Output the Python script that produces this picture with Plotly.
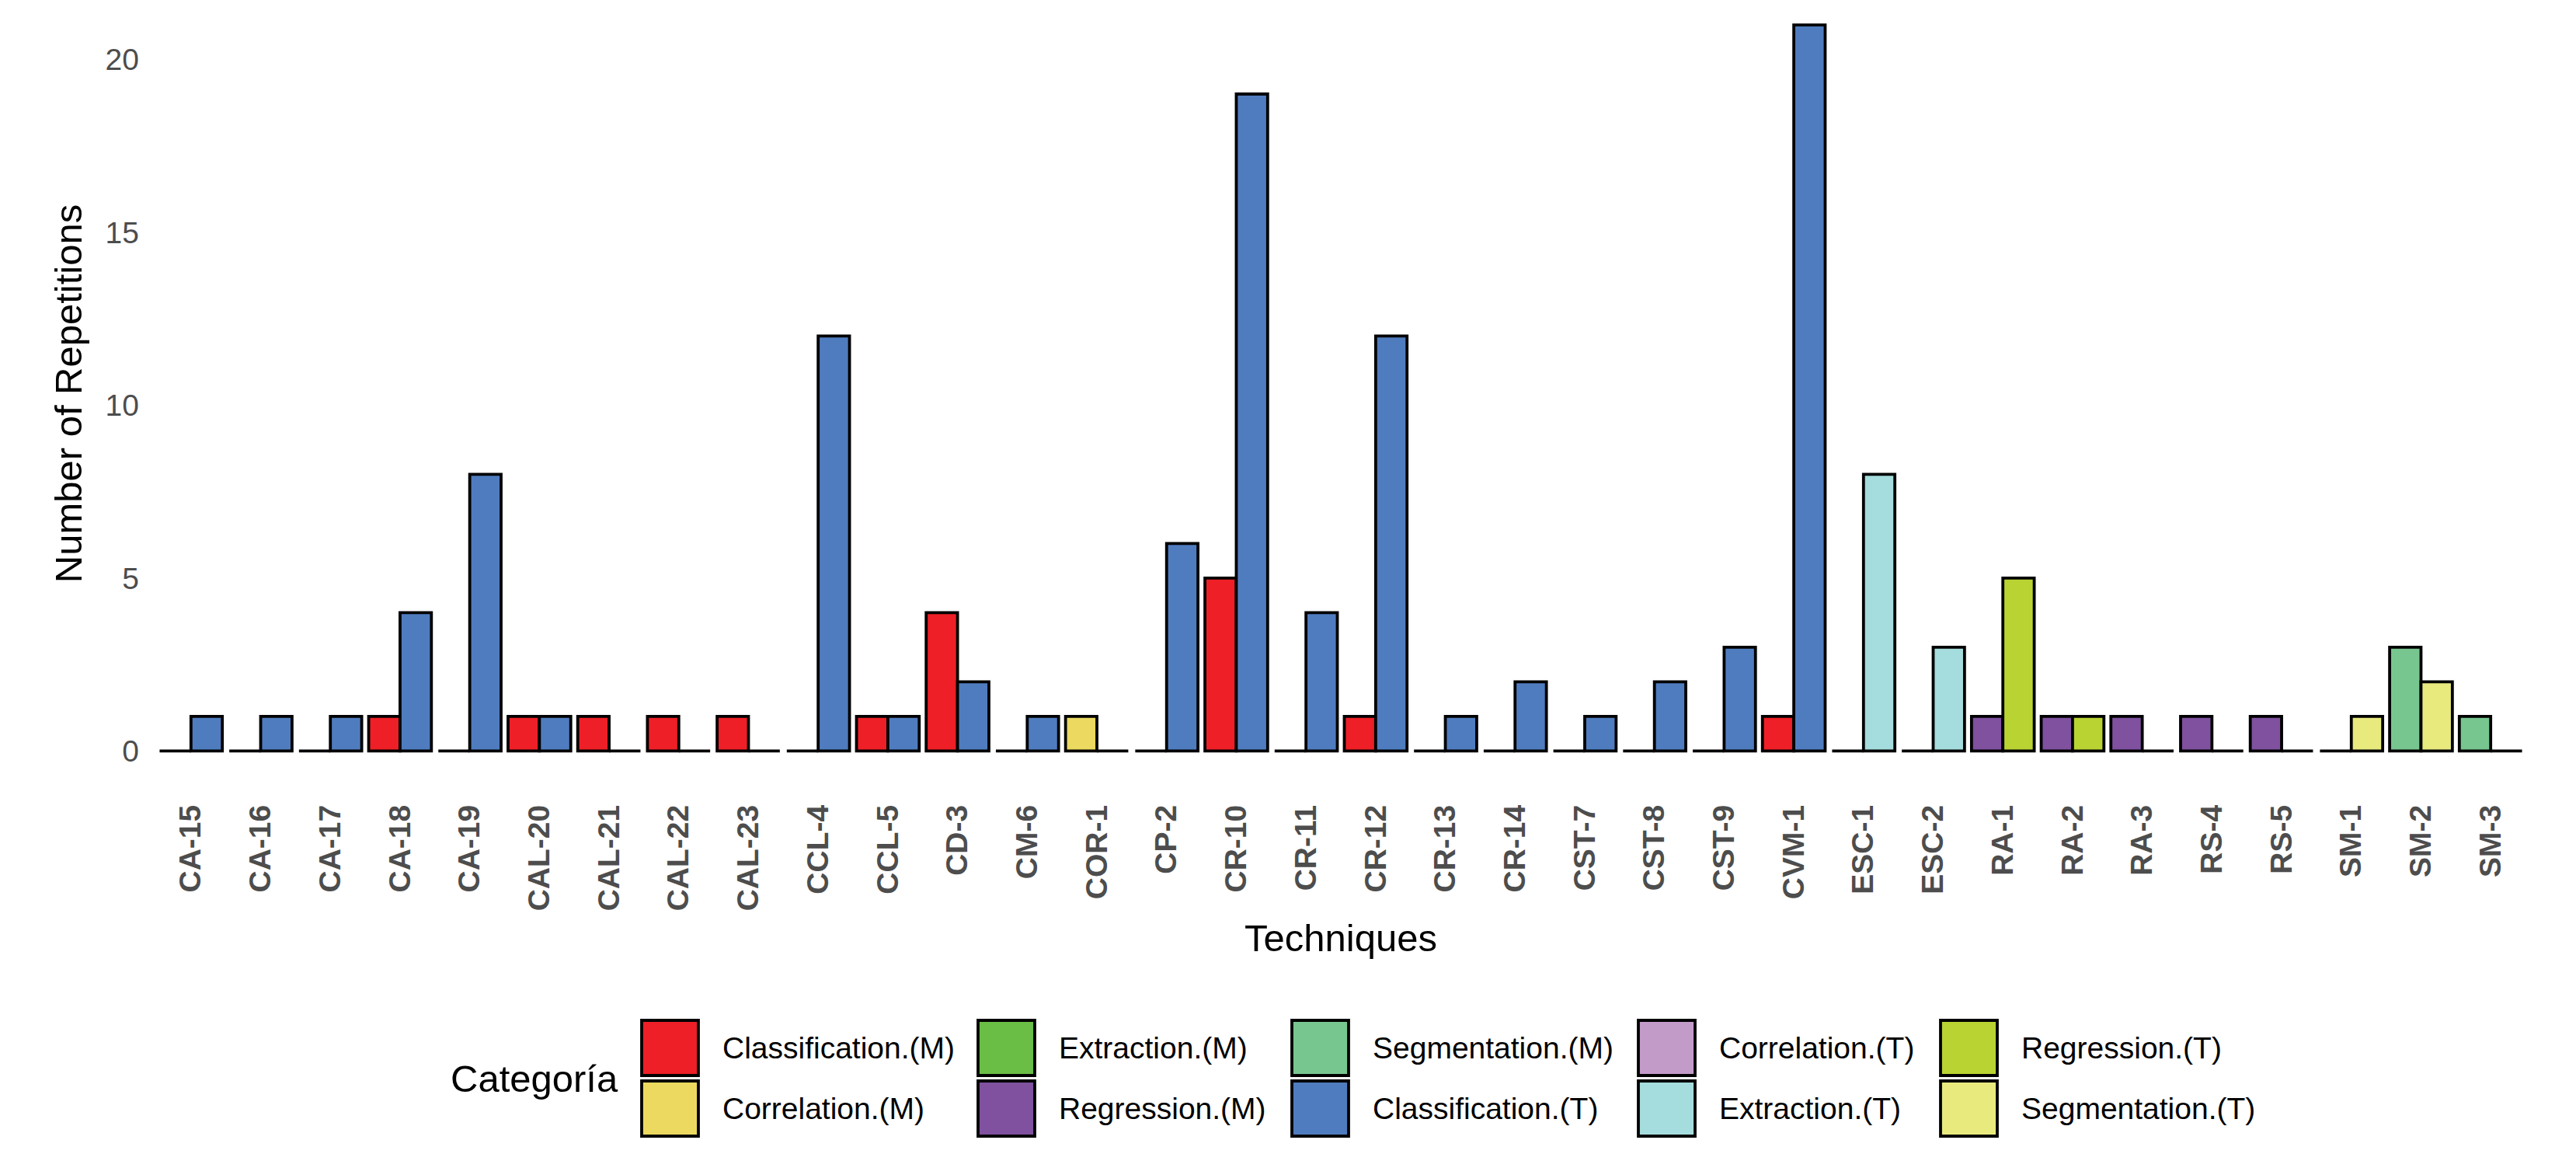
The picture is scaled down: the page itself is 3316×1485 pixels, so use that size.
import plotly.graph_objects as go

# ---------------- data ----------------
techniques = ["CA-15", "CA-16", "CA-17", "CA-18", "CA-19", "CAL-20", "CAL-21", "CAL-22",
              "CAL-23", "CCL-4", "CCL-5", "CD-3", "CM-6", "COR-1", "CP-2", "CR-10",
              "CR-11", "CR-12", "CR-13", "CR-14", "CST-7", "CST-8", "CST-9", "CVM-1",
              "ESC-1", "ESC-2", "RA-1", "RA-2", "RA-3", "RS-4", "RS-5", "SM-1", "SM-2", "SM-3"]

# first (M) slot of each technique
m_category = [None, None, None, "Classification.(M)", None, "Classification.(M)",
              "Classification.(M)", "Classification.(M)", "Classification.(M)", None,
              "Classification.(M)", "Classification.(M)", None, "Correlation.(M)", None,
              "Classification.(M)", None, "Classification.(M)", None, None, None, None, None,
              "Classification.(M)", None, None, "Regression.(M)", "Regression.(M)",
              "Regression.(M)", "Regression.(M)", "Regression.(M)", None,
              "Segmentation.(M)", "Segmentation.(M)"]
m_values = [0, 0, 0, 1, 0, 1, 1, 1, 1, 0, 1, 4, 0, 1, 0, 5, 0, 1, 0, 0, 0, 0, 0, 1,
            0, 0, 1, 1, 1, 1, 1, 0, 3, 1]

# second (T) slot of each technique
t_category = ["Classification.(T)"] * 5 + ["Classification.(T)", None, None, None,
              "Classification.(T)", "Classification.(T)", "Classification.(T)",
              "Classification.(T)", None, "Classification.(T)", "Classification.(T)",
              "Classification.(T)", "Classification.(T)", "Classification.(T)",
              "Classification.(T)", "Classification.(T)", "Classification.(T)",
              "Classification.(T)", "Classification.(T)", "Extraction.(T)", "Extraction.(T)",
              "Regression.(T)", "Regression.(T)", None, None, None, "Segmentation.(T)",
              "Segmentation.(T)", None]
t_values = [1, 1, 1, 4, 8, 1, 0, 0, 0, 12, 1, 2, 1, 0, 6, 19, 4, 12, 1, 2, 1, 2, 3, 21,
            8, 3, 5, 1, 0, 0, 0, 1, 2, 0]

categories = ["Classification.(M)", "Correlation.(M)", "Extraction.(M)", "Regression.(M)",
              "Segmentation.(M)", "Classification.(T)", "Correlation.(T)", "Extraction.(T)",
              "Regression.(T)", "Segmentation.(T)"]
category_colors = ["#EE1F26", "#EBD960", "#6ABD45", "#7F519F", "#77C68F",
                   "#4F7CBF", "#C39BC9", "#A5DCDD", "#B9D332", "#E8EA7E"]

y_ticks = [0, 5, 10, 15, 20]

# ---------------- figure ----------------
W, H = 3316, 1485
ML, MR, MT, MB = 192, 56, 0, 472
PW, PH = W - ML - MR, H - MT - MB
FONT = "Liberation Sans, Arial, sans-serif"
LINE_W = 3.8
color_of = dict(zip(categories, category_colors))

def cols(cats):
    return [color_of[c] if c else "white" for c in cats]

fig = go.Figure()
fig.add_trace(go.Bar(x=techniques, y=m_values, offsetgroup="M", name="M",
                     marker=dict(color=cols(m_category), line=dict(color="black", width=LINE_W)),
                     showlegend=False))
fig.add_trace(go.Bar(x=techniques, y=t_values, offsetgroup="T", name="T",
                     marker=dict(color=cols(t_category), line=dict(color="black", width=LINE_W)),
                     showlegend=False))

fig.update_layout(
    width=W, height=H,
    margin=dict(l=ML, r=MR, t=MT, b=MB, autoexpand=False),
    paper_bgcolor="white", plot_bgcolor="white",
    barmode="group", bargap=0.1, bargroupgap=0,
    font=dict(family=FONT, color="black"),
    showlegend=False,
)
fig.update_xaxes(type="category", range=[-0.6, len(techniques) - 0.4], showgrid=False,
                 zeroline=False, showline=False, ticks="", tickangle=-90,
                 tickfont=dict(family=FONT, size=39, color="#4D4D4D", weight="bold"),
                 ticklabelstandoff=14, automargin=False,
                 title=dict(text="Techniques", font=dict(size=49, color="black"), standoff=18))
fig.update_yaxes(range=[-1.05, 21.72], tickvals=y_ticks, showgrid=False, zeroline=False,
                 showline=False, ticks="", tickfont=dict(family=FONT, size=39, color="#4D4D4D"),
                 ticklabelstandoff=12, automargin=False,
                 title=dict(text="Number of Repetitions", font=dict(size=49, color="black"),
                            standoff=14))

# ---------------- legend (drawn as keys + labels) ----------------
def px_x(p):
    return (p - ML) / PW

def px_y(p):
    return (H - MB - p) / PH

col_left = [826, 1259, 1663, 2109, 2498]
row_top = [1313, 1391]
key_w, key_h = 73, 71

fig.add_annotation(text="Categoría", xref="paper", yref="paper", x=px_x(578), y=px_y(1388),
                   xanchor="left", yanchor="middle", showarrow=False,
                   font=dict(size=49, color="black", family=FONT))
for k, (cat, colr) in enumerate(zip(categories, category_colors)):
    c, r = k // 2, k % 2
    x0, y0 = col_left[c], row_top[r]
    fig.add_shape(type="rect", xref="paper", yref="paper",
                  x0=px_x(x0), x1=px_x(x0 + key_w), y0=px_y(y0), y1=px_y(y0 + key_h),
                  fillcolor=colr, line=dict(color="black", width=LINE_W))
    fig.add_annotation(text=cat, xref="paper", yref="paper", x=px_x(x0 + 102),
                       y=px_y(y0 + key_h / 2), xanchor="left", yanchor="middle",
                       showarrow=False, font=dict(size=39, color="black", family=FONT))

fig.write_html("out.html", config={"displayModeBar": False},
               post_script="document.body.style.margin='0';")
